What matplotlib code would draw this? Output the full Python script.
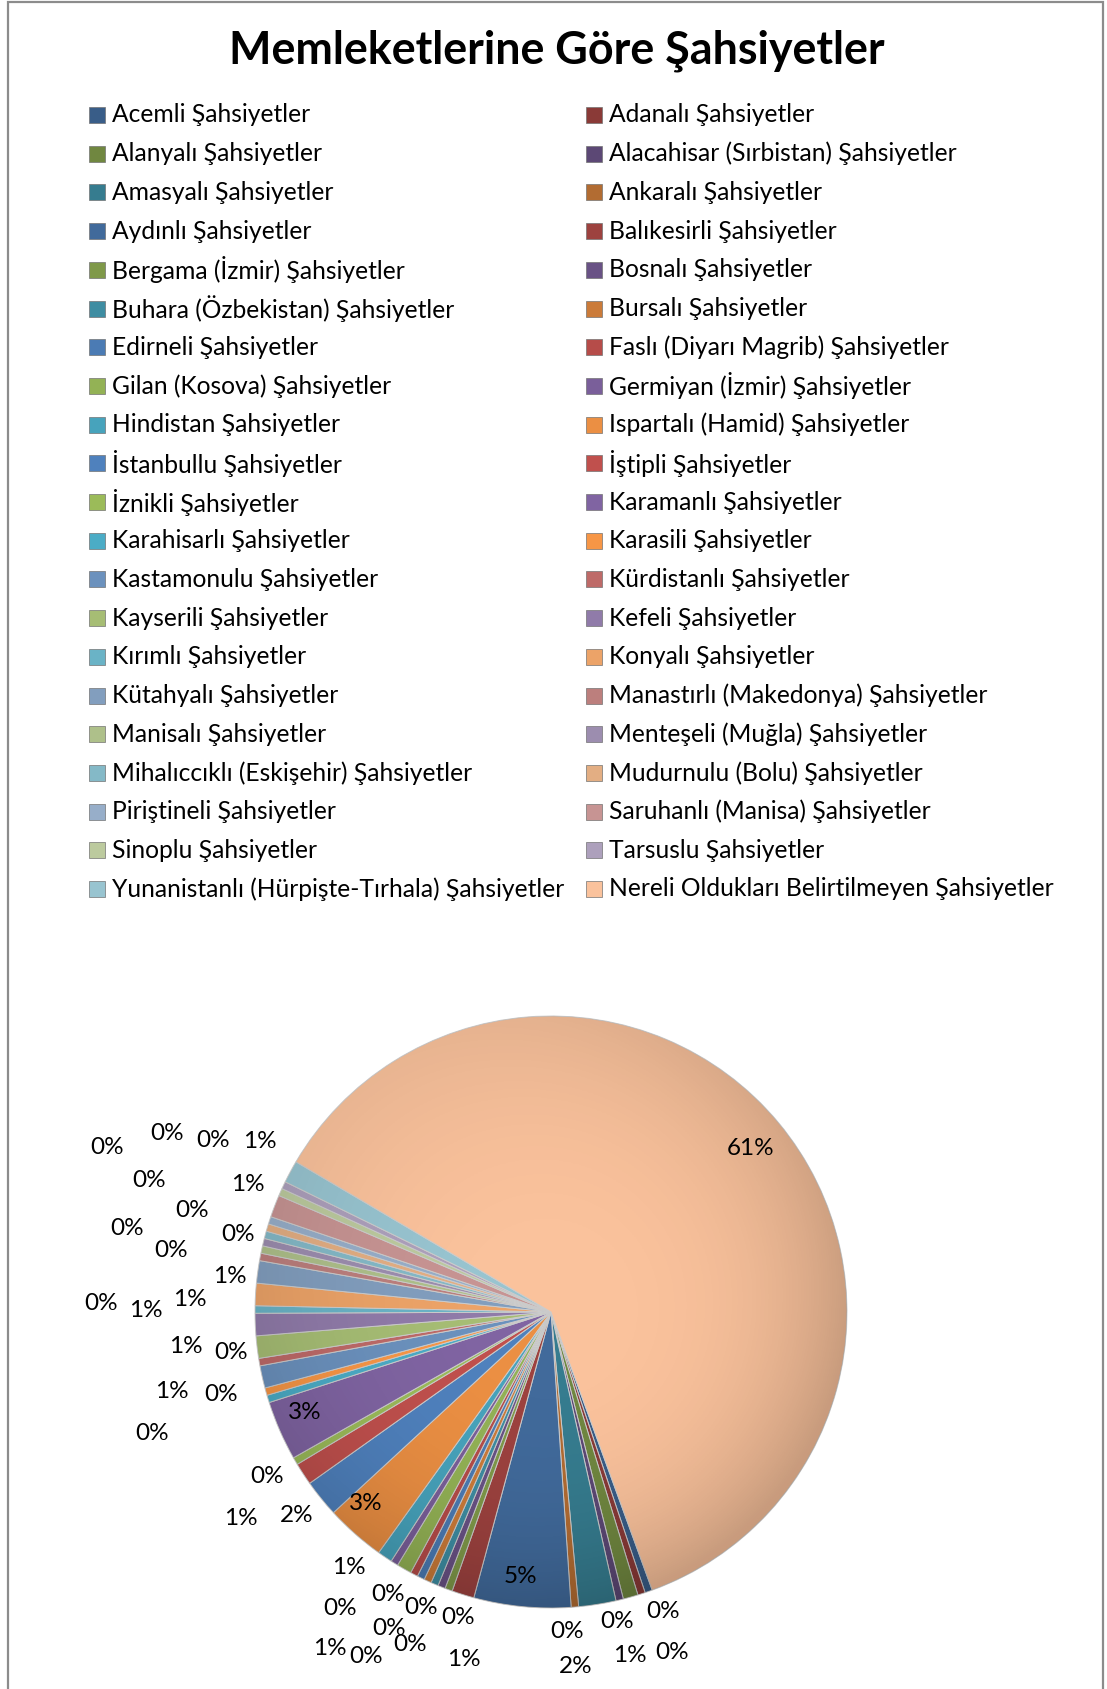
import numpy as np
import matplotlib
matplotlib.use("Agg")
from matplotlib import pyplot as plt
from matplotlib.patches import Rectangle, Circle

plt.rcParams['font.family'] = ['Lato', 'DejaVu Sans']

# places, in legend order (row by row)
places = ["Acemli", "Adanalı", "Alanyalı", "Alacahisar (Sırbistan)", "Amasyalı", "Ankaralı",
          "Aydınlı", "Balıkesirli", "Bergama (İzmir)", "Bosnalı", "Buhara (Özbekistan)", "Bursalı",
          "Edirneli", "Faslı (Diyarı Magrib)", "Gilan (Kosova)", "Germiyan (İzmir)", "Hindistan",
          "Ispartalı (Hamid)", "İstanbullu", "İştipli", "İznikli", "Karamanlı", "Karahisarlı",
          "Karasili", "Kastamonulu", "Kürdistanlı", "Kayserili", "Kefeli", "Kırımlı", "Konyalı",
          "Kütahyalı", "Manastırlı (Makedonya)", "Manisalı", "Menteşeli (Muğla)",
          "Mihalıccıklı (Eskişehir)", "Mudurnulu (Bolu)", "Piriştineli", "Saruhanlı (Manisa)",
          "Sinoplu", "Tarsuslu", "Yunanistanlı (Hürpişte-Tırhala)",
          "Nereli Oldukları Belirtilmeyen"]

# number of people per place (estimated from the slices)
counts = [1, 1, 2, 1, 5, 1,
          13, 3, 1, 1, 1, 1,
          1, 1, 2, 1, 2,
          8, 5, 3, 1, 8, 1,
          1, 3, 1, 3, 3, 1, 3,
          3, 1, 1, 1,
          1, 1, 1, 3,
          1, 1, 3,
          150]

labels = [p + " Şahsiyetler" for p in places]

# label placement: distance from centre (in radii) and angle nudge (deg)
lab_r = [1.08, 1.22, 1.19, 1.07, 1.20, 1.08, 0.90, 1.21, 1.08, 1.22, 1.09, 1.20, 1.32, 1.10,
         1.36, 1.23, 1.10, 0.90, 1.10, 1.26, 1.11, 0.90, 1.41, 1.15, 1.31, 1.09, 1.24, 1.22,
         1.52, 1.37, 1.09, 1.30, 1.46, 1.09, 1.26, 1.43, 1.60, 1.11, 1.43, 1.28, 1.14, 0.87]
lab_d = [1.3, 1.8, -2.7, -1.4, -5.0, -1.7, -0.9, 3.2, 3.4, -1.3, -0.5, -2.4, -2.2, -2.4,
         -3.5, -3.5, -4.3, -2.5, -0.4, 0.5, -0.2, -1.4, -0.2, -1.6, -0.9, -2.5, -1.4, -4.4,
         -0.6, 3.2, 1.5, 1.5, 1.0, -0.3, -0.6, -1.5, -2.3, -1.9, -1.1, -1.6, -2.0, -0.4]

# office 2007 style colours, varied per round
base = np.array([[79, 129, 189], [192, 80, 77], [155, 187, 89],
                 [128, 100, 162], [75, 172, 198], [247, 150, 70]]) / 255.0
shade = [0.72, 0.82, 0.95, 1.0, 1.0, 1.0, 1.0]
tint = [0.0, 0.0, 0.0, 0.0, 0.12, 0.22, 0.35]
desat = [0.0, 0.0, 0.0, 0.0, 0.15, 0.3, 0.3]
colors = []
for i in range(len(counts)):
    c = base[i % 6]
    k = i // 6
    c = c * shade[k]
    g = c.mean()
    c = c * (1 - desat[k]) + g * desat[k]
    c = c + (1 - c) * tint[k]
    colors.append(tuple(np.clip(c, 0, 1)))
colors[-1] = (0.98, 0.76, 0.61)

W, H = 1107, 1689
cx, cy, R = 551, 1312, 296

fig = plt.figure(figsize=(W / 100, H / 100), dpi=100)

# chart border
fig.add_artist(Rectangle((8 / W, -0.05), (1103 - 8) / W, 1.05 - 1.5 / H, transform=fig.transFigure,
                         fill=False, edgecolor="#8c8c8c", linewidth=1.6))

fig.text(557 / W, 1 - 51 / H, "Memleketlerine Göre Şahsiyetler", ha="center", va="center",
         fontsize=32.3, fontweight="bold")

ax = fig.add_axes([(cx - R) / W, (H - cy - R) / H, 2 * R / W, 2 * R / H])
wedges, _ = ax.pie(counts, colors=colors, startangle=-70, counterclock=False, radius=1,
                   wedgeprops=dict(edgecolor=(0.8, 0.8, 0.8), linewidth=0.7))
ax.set_xlim(-1, 1)
ax.set_ylim(-1, 1)
ax.axis("off")

# soft shading toward the lower right rim, like the bevelled excel pie
gx, gy = np.meshgrid(np.linspace(-1, 1, 300), np.linspace(-1, 1, 300))
dist = np.sqrt(gx ** 2 + gy ** 2)
shadeimg = np.zeros((300, 300, 4))
shadeimg[..., 3] = np.clip(0.14 * dist ** 3 * (1 + 0.5 * (gx - gy) / 1.4), 0, 0.2)
im = ax.imshow(shadeimg, extent=(-1, 1, -1, 1), origin="lower", zorder=2)
im.set_clip_path(Circle((0, 0), 1, transform=ax.transData))

total = sum(counts)
for i, w in enumerate(wedges):
    ang = np.radians((w.theta1 + w.theta2) / 2 + lab_d[i])
    pct = "%d%%" % round(100.0 * counts[i] / total)
    ax.text(lab_r[i] * np.cos(ang), lab_r[i] * np.sin(ang), pct, ha="center", va="center",
            fontsize=17.5, color="black", zorder=3)

# legend, two columns filled row by row
for i, lab in enumerate(labels):
    row, col = i // 2, i % 2
    y = 115 + 38.7 * row
    mx = 89 if col == 0 else 586
    fig.add_artist(Rectangle((mx / W, 1 - (y + 8) / H), 16 / W, 16 / H, transform=fig.transFigure,
                             facecolor=colors[i], edgecolor=(0.45, 0.45, 0.45), linewidth=0.5))
    fig.text((mx + 23) / W, 1 - y / H, lab, ha="left", va="center", fontsize=17.7)

plt.savefig("out.png", dpi=100)
